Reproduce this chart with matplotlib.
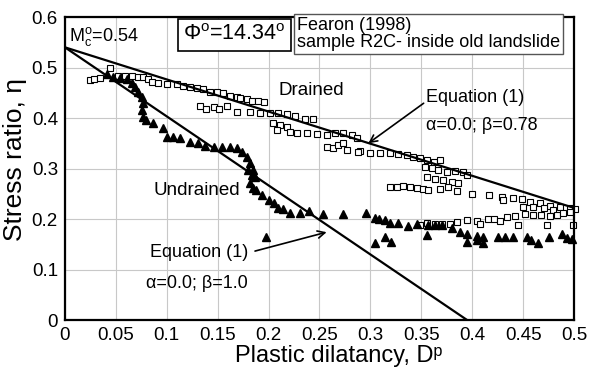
import matplotlib.pyplot as plt

plt.rcParams['font.family'] = ['Liberation Sans', 'DejaVu Sans']
plt.rcParams['mathtext.fontset'] = 'custom'
plt.rcParams['mathtext.rm'] = 'Liberation Sans'

# drained test (open squares)
drained_x = [0.025, 0.029, 0.034, 0.044, 0.052, 0.059, 0.066, 0.072, 0.077, 0.082, 0.086, 0.091,
             0.100, 0.110, 0.116, 0.123, 0.130, 0.136, 0.142, 0.149, 0.155, 0.162, 0.169,
             0.172, 0.179, 0.184, 0.190, 0.196,
             0.133, 0.139, 0.146, 0.151, 0.159, 0.169, 0.182, 0.192, 0.201, 0.209, 0.218,
             0.226, 0.236, 0.244,
             0.204, 0.211, 0.218, 0.208, 0.221, 0.228, 0.238, 0.248, 0.257, 0.265, 0.273,
             0.282, 0.287,
             0.257, 0.263, 0.268, 0.273, 0.277, 0.290, 0.300, 0.288, 0.309, 0.319, 0.327,
             0.336, 0.342, 0.349, 0.356, 0.362, 0.368,
             0.354, 0.360, 0.366, 0.375, 0.383, 0.391, 0.395, 0.356, 0.363, 0.371, 0.380, 0.386,
             0.319, 0.326, 0.332, 0.339, 0.346, 0.352, 0.357, 0.368, 0.376, 0.385, 0.400,
             0.416, 0.429, 0.430, 0.440, 0.449, 0.457, 0.467, 0.476, 0.486, 0.496, 0.501,
             0.450, 0.460, 0.470, 0.479,
             0.349, 0.356, 0.363, 0.370, 0.378, 0.385, 0.395, 0.405, 0.408, 0.415, 0.421,
             0.427, 0.434, 0.442, 0.445, 0.452, 0.460, 0.468, 0.473, 0.476, 0.483, 0.489,
             0.496, 0.499]
drained_y = [0.475, 0.477, 0.479, 0.499, 0.483, 0.483, 0.483, 0.481, 0.481, 0.477, 0.472, 0.469,
             0.467, 0.467, 0.463, 0.461, 0.459, 0.457, 0.452, 0.451, 0.449, 0.444, 0.442,
             0.440, 0.438, 0.434, 0.434, 0.432,
             0.424, 0.418, 0.422, 0.418, 0.424, 0.412, 0.412, 0.410, 0.410, 0.410, 0.408,
             0.404, 0.398, 0.398,
             0.390, 0.386, 0.382, 0.376, 0.372, 0.370, 0.370, 0.368, 0.366, 0.370, 0.370,
             0.366, 0.360,
             0.343, 0.341, 0.347, 0.350, 0.337, 0.335, 0.331, 0.333, 0.331, 0.331, 0.329,
             0.327, 0.323, 0.321, 0.317, 0.313, 0.317,
             0.303, 0.301, 0.297, 0.293, 0.295, 0.293, 0.287, 0.283, 0.279, 0.277, 0.273, 0.271,
             0.263, 0.263, 0.265, 0.263, 0.261, 0.259, 0.257, 0.259, 0.263, 0.255, 0.249,
             0.247, 0.244, 0.238, 0.242, 0.240, 0.234, 0.232, 0.226, 0.224, 0.222, 0.220,
             0.224, 0.224, 0.222, 0.218,
             0.188, 0.192, 0.190, 0.190, 0.190, 0.194, 0.198, 0.196, 0.190, 0.200, 0.200,
             0.196, 0.204, 0.206, 0.188, 0.210, 0.208, 0.208, 0.188, 0.206, 0.208, 0.212,
             0.214, 0.188]

# undrained test (filled triangles)
undrained_x = [0.041, 0.047, 0.054, 0.061, 0.066, 0.069, 0.072, 0.076, 0.077, 0.076, 0.077,
               0.080, 0.087, 0.096, 0.100, 0.106, 0.113, 0.123, 0.131, 0.138, 0.146, 0.154,
               0.162, 0.169, 0.174, 0.179, 0.182, 0.185, 0.187, 0.180, 0.184, 0.182, 0.185,
               0.188, 0.194, 0.200, 0.205, 0.209, 0.214, 0.221, 0.231, 0.240, 0.253, 0.273,
               0.197, 0.296, 0.305, 0.308, 0.314, 0.319, 0.327, 0.337, 0.346, 0.357, 0.363,
               0.370, 0.380, 0.388, 0.395, 0.405, 0.411, 0.425, 0.432, 0.440, 0.454, 0.458,
               0.465, 0.475, 0.488, 0.493, 0.498,
               0.305, 0.314, 0.320, 0.356, 0.395, 0.411, 0.405]
undrained_y = [0.487, 0.481, 0.479, 0.477, 0.469, 0.461, 0.452, 0.442, 0.430, 0.416, 0.402,
               0.396, 0.390, 0.380, 0.362, 0.362, 0.360, 0.353, 0.350, 0.345, 0.343, 0.343,
               0.343, 0.341, 0.333, 0.323, 0.311, 0.297, 0.283, 0.297, 0.287, 0.271, 0.261,
               0.257, 0.248, 0.238, 0.232, 0.222, 0.220, 0.212, 0.212, 0.216, 0.210, 0.210,
               0.164, 0.212, 0.202, 0.200, 0.198, 0.192, 0.192, 0.186, 0.190, 0.188, 0.188,
               0.188, 0.182, 0.174, 0.170, 0.166, 0.164, 0.164, 0.164, 0.164, 0.164, 0.158,
               0.152, 0.164, 0.170, 0.162, 0.160,
               0.152, 0.164, 0.154, 0.168, 0.154, 0.152, 0.158]

# equation (1) lines
eq_drained_x = [0.0, 0.5]
eq_drained_y = [0.54, 0.222]
eq_undrained_x = [0.0, 0.395]
eq_undrained_y = [0.54, 0.0]

fig = plt.figure(figsize=(5.9, 3.7), dpi=100)
ax = fig.add_axes([0.110, 0.135, 0.863, 0.819])

ax.grid(True, color='#c8c8c8', linewidth=0.8)
ax.set_axisbelow(True)

ax.plot(drained_x, drained_y, 's', markersize=5, markerfacecolor='white',
        markeredgecolor='black', markeredgewidth=0.8, clip_on=False)
ax.plot(undrained_x, undrained_y, '^', markersize=5.5, color='black', clip_on=False)
ax.plot(eq_drained_x, eq_drained_y, 'k-', linewidth=1.6)
ax.plot(eq_undrained_x, eq_undrained_y, 'k-', linewidth=1.6)

ax.set_xlim(0, 0.5)
ax.set_ylim(0, 0.6)
ax.set_xticks([0, 0.05, 0.1, 0.15, 0.2, 0.25, 0.3, 0.35, 0.4, 0.45, 0.5])
ax.set_xticklabels(['0', '0.05', '0.1', '0.15', '0.2', '0.25', '0.3', '0.35', '0.4', '0.45', '0.5'])
ax.set_yticks([0, 0.1, 0.2, 0.3, 0.4, 0.5, 0.6])
ax.set_yticklabels(['0', '0.1', '0.2', '0.3', '0.4', '0.5', '0.6'])
ax.tick_params(length=0, labelsize=13.5, pad=5)
for s in ax.spines.values():
    s.set_linewidth(1.6)

ax.set_xlabel('Plastic dilatancy, Dᵖ', fontsize=17)
ax.set_ylabel('Stress ratio, η', fontsize=19)
ax.xaxis.set_label_coords(0.538, -0.083)
ax.yaxis.set_label_coords(-0.075, 0.53)

ax.text(0.004, 0.538, '$\\mathregular{M_c^o}$=0.54', fontsize=13, va='bottom', ha='left')
ax.text(0.116, 0.565, 'Φ$^\\mathregular{o}$=14.34$^\\mathregular{o}$', fontsize=15.5,
        ha='left', va='center',
        bbox=dict(boxstyle='square,pad=0.25', facecolor='white', edgecolor='black', linewidth=1.2))
ax.text(0.228, 0.566, 'Fearon (1998)\nsample R2C- inside old landslide', fontsize=13,
        ha='left', va='center', linespacing=1.0,
        bbox=dict(boxstyle='square,pad=0.15', facecolor='white', edgecolor='#555555', linewidth=1.0))

ax.text(0.242, 0.455, 'Drained', fontsize=13.5, ha='center', va='center')
ax.text(0.13, 0.257, 'Undrained', fontsize=13.5, ha='center', va='center')

ax.annotate('Equation (1)', xy=(0.298, 0.35), xytext=(0.355, 0.44), fontsize=13,
            ha='left', va='center',
            arrowprops=dict(arrowstyle='->', color='black', linewidth=1.2, shrinkA=0, shrinkB=0,
                            relpos=(0, 0.3)))
ax.text(0.355, 0.386, 'α=0.0; β=0.78', fontsize=13, ha='left', va='center')

ax.annotate('Equation (1)', xy=(0.257, 0.174), xytext=(0.18, 0.133), fontsize=13,
            ha='right', va='center',
            arrowprops=dict(arrowstyle='->', color='black', linewidth=1.2, shrinkA=3, shrinkB=0,
                            relpos=(1, 0.5)))
ax.text(0.18, 0.073, 'α=0.0; β=1.0', fontsize=13, ha='right', va='center')

fig.savefig('out.png', dpi=100)
